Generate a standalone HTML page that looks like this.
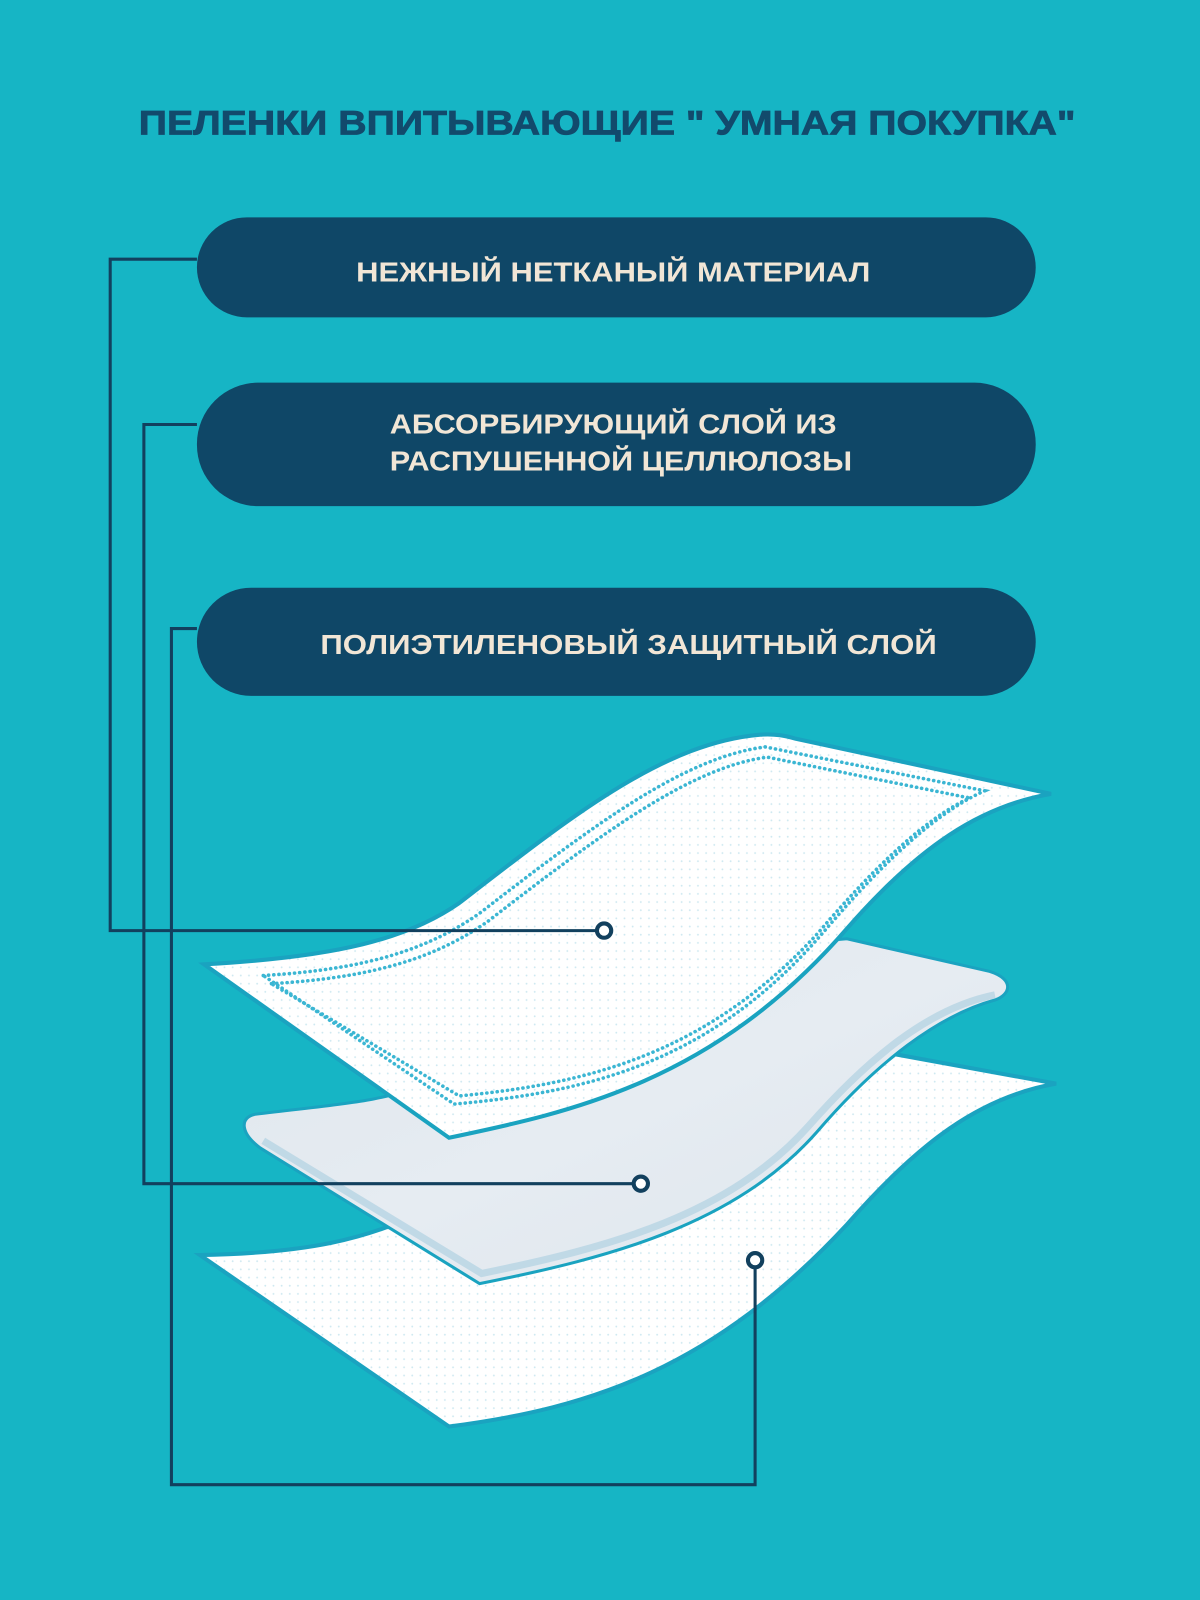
<!DOCTYPE html>
<html><head><meta charset="utf-8"><style>
html,body{margin:0;padding:0;background:#16b5c5;}
svg{display:block}
text{font-family:"Liberation Sans","DejaVu Sans",sans-serif;font-weight:bold;}
</style></head><body>
<svg width="1200" height="1600" viewBox="0 0 1176 1568" xmlns="http://www.w3.org/2000/svg">
<defs>
<pattern id="dots" width="8" height="8" patternUnits="userSpaceOnUse">
<rect width="8" height="8" fill="#ffffff"/><circle cx="4" cy="4" r="0.9" fill="#cfe9f1"/>
</pattern>
<linearGradient id="cell" x1="0" y1="0" x2="1" y2="1">
<stop offset="0" stop-color="#dfe6ec"/><stop offset="0.5" stop-color="#e6ecf2"/><stop offset="1" stop-color="#dde5ec"/>
</linearGradient>
</defs>
<rect width="1176" height="1568" fill="#16b5c5"/>
<text x="595" y="132" text-anchor="middle" font-size="34" fill="#124a6c" stroke="#124a6c" stroke-width="0.8" textLength="918" lengthAdjust="spacingAndGlyphs">ПЕЛЕНКИ ВПИТЫВАЮЩИЕ " УМНАЯ ПОКУПКА"</text>

<rect x="193" y="213" width="822" height="98" rx="49" fill="#0f4767"/>
<text x="601" y="276" text-anchor="middle" font-size="27" fill="#f1e6d6" textLength="504" lengthAdjust="spacingAndGlyphs">НЕЖНЫЙ НЕТКАНЫЙ МАТЕРИАЛ</text>
<rect x="193" y="375" width="822" height="121" rx="60" fill="#0f4767"/>
<text x="382" y="425" font-size="27" fill="#f1e6d6" textLength="438" lengthAdjust="spacingAndGlyphs">АБСОРБИРУЮЩИЙ СЛОЙ ИЗ</text>
<text x="382" y="461" font-size="27" fill="#f1e6d6" textLength="453" lengthAdjust="spacingAndGlyphs">РАСПУШЕННОЙ ЦЕЛЛЮЛОЗЫ</text>
<rect x="193" y="576" width="822" height="106" rx="53" fill="#0f4767"/>
<text x="616" y="641" text-anchor="middle" font-size="27" fill="#f1e6d6" textLength="604" lengthAdjust="spacingAndGlyphs">ПОЛИЭТИЛЕНОВЫЙ ЗАЩИТНЫЙ СЛОЙ</text>

<!-- bottom sheet -->
<path d="M196 1230 C300 1228 360 1215 420 1185 C560 1115 700 1045 860 1030 L1035 1062 C960 1075 900 1120 830 1200 C700 1340 580 1380 440 1398 Z" fill="url(#dots)" stroke="#1aa3c0" stroke-width="4"/>
<!-- middle sheet -->
<path d="M250 1092 C330 1082 380 1080 420 1060 C560 990 700 930 830 920 L970 952 C995 960 990 975 975 980 C920 995 860 1040 800 1110 C720 1200 600 1232 470 1258 L255 1125 C235 1110 235 1095 250 1092 Z" fill="url(#cell)" stroke="#1aa3c0" stroke-width="3"/>
<path d="M258 1118 L472 1248 C600 1222 715 1190 792 1104 C850 1038 910 988 975 975" fill="none" stroke="#b7d5e3" stroke-width="7" opacity="0.8"/>
<!-- top sheet -->
<path d="M200 945 C330 938 400 920 450 885 C560 800 650 728 745 720 C760 719 770 721 780 724 L1030 778 C960 790 900 830 830 910 C700 1060 560 1090 440 1115 Z" fill="url(#dots)" stroke="#1aa3c0" stroke-width="4"/>
<path d="M258 956 C360 950 420 930 470 895 C580 810 670 742 750 732 L965 775 C920 795 870 840 810 910 C700 1040 580 1070 445 1082 Z" fill="none" stroke="#3bb6d3" stroke-width="3.5" stroke-dasharray="0.1 5" stroke-linecap="round"/>
<path d="M266 964 C368 958 428 938 478 903 C588 818 676 752 752 742 L950 782 C908 802 860 846 802 914 C694 1032 578 1062 450 1074 Z" fill="none" stroke="#3bb6d3" stroke-width="3.5" stroke-dasharray="0.1 5" stroke-linecap="round"/>

<!-- connectors -->
<g fill="none" stroke="#12405e" stroke-width="3">
<polyline points="193,254 108,254 108,912 585,912"/>
<polyline points="193,416 141,416 141,1160 621,1160"/>
<polyline points="193,616 168,616 168,1455 740,1455 740,1242"/>
</g>
<g fill="#ffffff" stroke="#12405e" stroke-width="4">
<circle cx="592" cy="912" r="7"/>
<circle cx="628" cy="1160" r="7"/>
<circle cx="740" cy="1235" r="7"/>
</g>
</svg>
</body></html>
